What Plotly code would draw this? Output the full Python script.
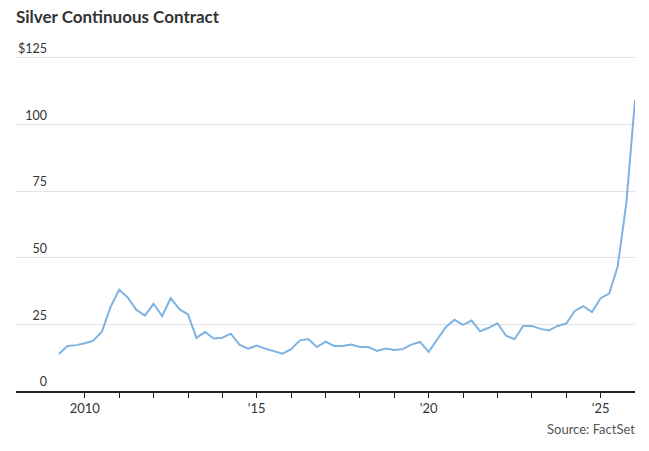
import pandas as pd
import plotly.graph_objects as go

# Quarterly silver continuous contract prices (USD/oz)
dates = pd.date_range("2009-04-01", periods=68, freq="QS")
prices = [
    13.9, 16.9, 17.2, 17.9, 18.9, 22.2, 31.5, 38.0,
    35.1, 30.5, 28.3, 32.7, 28.1, 34.8, 30.7, 28.7,
    19.9, 22.1, 19.7, 20.0, 21.5, 17.4, 15.9, 17.0,
    15.9, 14.9, 14.0, 15.7, 18.9, 19.5, 16.5, 18.5,
    16.9, 16.9, 17.4, 16.5, 16.5, 15.0, 15.9, 15.4,
    15.7, 17.4, 18.4, 14.7, 19.4, 23.9, 26.7, 24.8,
    26.4, 22.4, 23.7, 25.4, 20.8, 19.4, 24.4, 24.4,
    23.3, 22.7, 24.4, 25.3, 30.0, 31.8, 29.6, 34.8,
    36.5, 46.7, 70.5, 109.1,
]

y_tickvals = [0, 25, 50, 75, 100, 125]
y_ticktext = ["0", "25", "50", "75", "100", "$125"]

x_tickvals = [f"{y}-01-01" for y in range(2010, 2026)]
x_ticktext = ["2010" if y == 2010 else ("'" + str(y)[2:] if y % 5 == 0 else "")
              for y in range(2010, 2026)]

title_text = "Silver Continuous Contract"
source_text = "Source: FactSet"

fig = go.Figure()
fig.add_trace(go.Scatter(
    x=dates, y=prices, mode="lines",
    line=dict(color="#7fb3e2", width=2),
    hoverinfo="skip",
))

fig.update_layout(
    width=649, height=451,
    margin=dict(l=16, r=14, t=55, b=60),
    paper_bgcolor="white", plot_bgcolor="white",
    showlegend=False,
    font=dict(family="Lato", color="#333333"),
    title=dict(text=f"<b>{title_text}</b>", x=0, xref="paper", xanchor="left",
               y=1 - 17 / 451, yanchor="middle",
               font=dict(family="Lato", size=17, color="#333333")),
    xaxis=dict(
        type="date",
        range=["2008-01-01", "2026-01-01"],
        tickvals=x_tickvals, ticktext=x_ticktext,
        ticks="outside", ticklen=5, tickwidth=1, tickcolor="#222222",
        showline=True, linecolor="#222222", linewidth=1.5,
        showgrid=False, zeroline=False,
        tickfont=dict(family="Lato", size=13, color="#333333"),
    ),
    yaxis=dict(
        range=[0, 126],
        tickvals=y_tickvals, ticktext=y_ticktext,
        anchor="free", position=0.050,
        ticks="", showline=False, zeroline=False,
        showgrid=True, gridcolor="#e2e2e2", gridwidth=1,
        ticklabelshift=-9,
        tickfont=dict(family="Lato", size=12.5, color="#333333"),
    ),
)

fig.add_annotation(
    text=source_text, xref="paper", yref="paper",
    x=1, y=-0.113, xanchor="right", yanchor="middle", xshift=2,
    showarrow=False, font=dict(family="Lato", size=13, color="#555555"),
)

fig.write_html(
    "out.html",
    config={"displayModeBar": False},
    post_script="document.body.style.margin='0';document.body.style.overflow='hidden';",
)
